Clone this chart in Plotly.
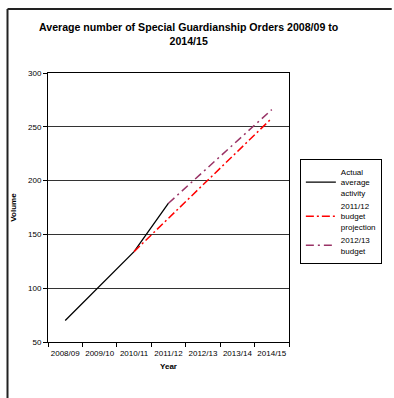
import plotly.graph_objects as go

years = ["2008/09", "2009/10", "2010/11", "2011/12", "2012/13", "2013/14", "2014/15"]
actual_x = ["2008/09", "2009/10", "2010/11", "2011/12"]
actual_y = [70, 102, 134, 179]
proj1112_x = ["2010/11", "2011/12", "2012/13", "2013/14", "2014/15"]
proj1112_y = [134, 165, 196, 227, 258]
budget1213_x = ["2011/12", "2012/13", "2013/14", "2014/15"]
budget1213_y = [179, 208, 237, 266]

FONT = "Liberation Sans, Arial, sans-serif"

fig = go.Figure()
fig.add_trace(go.Scatter(x=actual_x, y=actual_y, mode="lines",
                         name="Actual<br>average<br>activity",
                         line=dict(color="#000000", width=1.3)))
fig.add_trace(go.Scatter(x=proj1112_x, y=proj1112_y, mode="lines",
                         name="2011/12<br>budget<br>projection",
                         line=dict(color="#FF0000", width=1.5, dash="8px,3px,2px,3px")))
fig.add_trace(go.Scatter(x=budget1213_x, y=budget1213_y, mode="lines",
                         name="2012/13<br>budget",
                         line=dict(color="#993366", width=1.5, dash="8px,4px,2px,4px")))

L, R, T, B = 48, 102, 73, 56
W, H = 394, 398
pw = W - L - R
ph = H - T - B

def px2x(p):
    return (p - L) / pw

def py2y(p):
    return (H - B - p) / ph

fig.update_layout(
    width=W, height=H,
    margin=dict(l=L, r=R, t=T, b=B),
    paper_bgcolor="white", plot_bgcolor="white",
    font=dict(family=FONT, size=8, color="#000000"),
    xaxis=dict(type="category", categoryorder="array", categoryarray=years,
               range=[-0.5, 6.5], tickson="boundaries", ticks="outside", ticklen=4,
               tickangle=0, ticklabelstandoff=3,
               tickcolor="#000", showgrid=False, showline=True, linecolor="#000",
               linewidth=1, mirror=True,
               title=dict(text="<b>Year</b>", font=dict(size=8), standoff=6),
               tickfont=dict(size=8)),
    yaxis=dict(range=[50, 300], dtick=50, ticks="outside", ticklen=4, tickcolor="#000",
               showgrid=True, gridcolor="#333", gridwidth=1,
               showline=True, linecolor="#000", linewidth=1, mirror=True,
               zeroline=False,
               title=dict(text="<b>Volume</b>", font=dict(size=8), standoff=10),
               tickfont=dict(size=8)),
    legend=dict(x=px2x(303), y=py2y(159), xanchor="left", yanchor="top",
                bordercolor="#000", borderwidth=1, bgcolor="white",
                font=dict(size=8), tracegroupgap=0, itemwidth=30),
    showlegend=True,
    annotations=[
        dict(text="<b>Average number of Special Guardianship Orders 2008/09 to<br>2014/15</b>",
             xref="paper", yref="paper", x=px2x(191), y=py2y(19),
             xanchor="center", yanchor="top", showarrow=False, align="center",
             font=dict(family=FONT, size=10.6, color="#000000")),
    ],
    shapes=[
        dict(type="line", xref="paper", yref="paper",
             x0=px2x(7), x1=px2x(7), y0=py2y(9), y1=py2y(400),
             line=dict(color="#222", width=2)),
        dict(type="line", xref="paper", yref="paper",
             x0=px2x(7), x1=px2x(396), y0=py2y(9), y1=py2y(9),
             line=dict(color="#222", width=2)),
    ],
)

fig.write_html("out.html")
